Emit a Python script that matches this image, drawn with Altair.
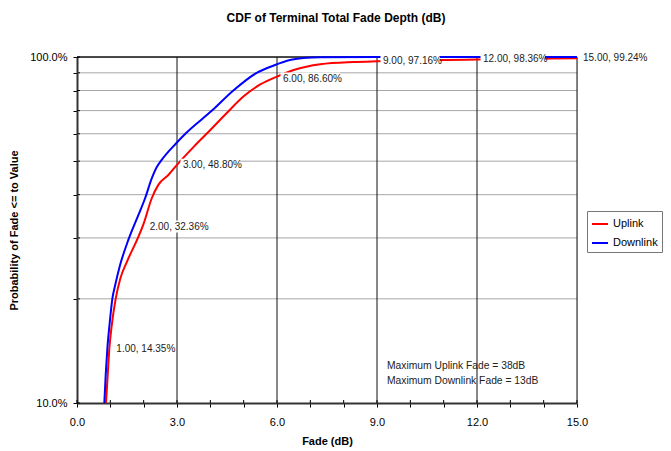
import altair as alt
import pandas as pd

# ---- data ----
up_x = [0.87, 0.92, 0.97, 1.05, 1.16, 1.30, 1.49, 1.84, 2.00, 2.24, 2.44, 2.74, 3.00, 3.50, 4.00, 4.50, 5.00, 5.50, 6.00, 6.50, 7.30, 8.30, 9.00, 10.5, 12.0, 13.5, 15.0]
up_p = [0.100, 0.120, 0.1435, 0.170, 0.200, 0.229, 0.255, 0.302, 0.330, 0.390, 0.427, 0.456, 0.488, 0.550, 0.615, 0.690, 0.770, 0.833, 0.878, 0.917, 0.953, 0.967, 0.9716, 0.978, 0.9836, 0.988, 0.9924]

down_x = [0.82, 0.86, 0.91, 0.98, 1.06, 1.15, 1.29, 1.54, 1.84, 2.04, 2.24, 2.39, 2.54, 2.99, 3.25, 4.05, 4.69, 5.39, 5.90, 6.39, 6.79, 7.30, 9.0, 12.0, 15.0]
down_p = [0.100, 0.120, 0.1435, 0.170, 0.200, 0.220, 0.250, 0.296, 0.349, 0.390, 0.445, 0.480, 0.504, 0.565, 0.600, 0.700, 0.800, 0.900, 0.945, 0.980, 0.993, 0.999, 1.0, 1.0, 1.0]

series_names = ["Uplink", "Downlink"]
series_colors = ["#ff0000", "#0000ff"]

label_x = [1, 2, 3, 6, 9, 12, 15]
label_p = [0.1435, 0.3236, 0.488, 0.866, 0.9716, 0.9836, 0.9924]
label_text = ["1.00, 14.35%", "2.00, 32.36%", "3.00, 48.80%", "6.00, 86.60%",
              "9.00, 97.16%", "12.00, 98.36%", "15.00, 99.24%"]

x_tick_values = list(range(0, 16))
x_grid_values = [3, 6, 9, 12, 15]
y_tick_values = [0.1, 0.2, 0.3, 0.4, 0.5, 0.6, 0.7, 0.8, 0.9, 1.0]
y_grid_gray = [0.2, 0.3, 0.4, 0.5, 0.6, 0.7, 0.8, 0.9]
y_grid_black = [1.0]

note_lines = ["Maximum Uplink Fade = 38dB", "Maximum Downlink Fade = 13dB"]
note_x = [9.3, 9.3]
note_p = [0.1279, 0.1160]

W, H = 500, 346
FONT = "Liberation Sans"

# ---- tables ----
curves = pd.concat([
    pd.DataFrame({"x": up_x, "p": up_p, "series": series_names[0], "o": 0}),
    pd.DataFrame({"x": down_x, "p": down_p, "series": series_names[1], "o": 1}),
])
labels = pd.DataFrame({"x": label_x, "p": label_p, "label": label_text})
notes = pd.DataFrame({"x": note_x, "p": note_p, "label": note_lines})

xs = alt.Scale(domain=[0, 15], nice=False, zero=False)
ys = alt.Scale(type="log", domain=[0.1, 1.0], nice=False)

x_axis = alt.Axis(values=x_tick_values,
                  labelExpr="datum.value % 3 == 0 ? format(datum.value, '.1f') : ''",
                  labelOverlap=False, labelBound=False, labelFlush=False,
                  grid=False, tickSize=4, tickColor="#000", domainColor="#333", domainWidth=2,
                  labelFontSize=11, labelPadding=9, labelColor="#000", labelFont=FONT,
                  title="Fade (dB)", titleFontSize=11, titleFontWeight="bold", titleFont=FONT,
                  titleX=W / 2, titleY=38, titleBaseline="middle", titleColor="#000")
y_axis = alt.Axis(values=y_tick_values,
                  labelExpr="(datum.value < 0.15 || datum.value > 0.95) ? format(datum.value, '.1%') : ''",
                  labelOverlap=False, labelBound=False, labelFlush=False,
                  grid=False, tickSize=4, tickColor="#000", domainColor="#333", domainWidth=2,
                  labelFontSize=11, labelPadding=6, labelColor="#000", labelFont=FONT,
                  title="Probability of Fade <= to Value", titleFontSize=11, titleFontWeight="bold",
                  titleFont=FONT, titleX=-63, titleY=H / 2, titleBaseline="middle", titleColor="#000")

X = alt.X("x:Q", scale=xs, axis=x_axis)
Y = alt.Y("p:Q", scale=ys, axis=y_axis)

gray_grid = alt.Chart(pd.DataFrame({"p": y_grid_gray})).mark_rule(
    color="#a6a6a6", strokeWidth=1).encode(y=Y)
black_hgrid = alt.Chart(pd.DataFrame({"p": y_grid_black})).mark_rule(
    color="#111", strokeWidth=1.5).encode(y=Y)
black_vgrid = alt.Chart(pd.DataFrame({"x": x_grid_values})).mark_rule(
    color="#111", strokeWidth=1).encode(x=X)

x_in_ticks = alt.Chart(pd.DataFrame({"x": x_tick_values})).mark_rule(
    color="#000", strokeWidth=1).encode(x=X, y=alt.value(H - 3), y2=alt.value(H))
y_in_ticks = alt.Chart(pd.DataFrame({"p": y_tick_values})).mark_rule(
    color="#000", strokeWidth=1).encode(y=Y, x=alt.value(0), x2=alt.value(3))

lines = alt.Chart(curves).mark_line(interpolate="monotone", strokeWidth=2).encode(
    x=X, y=Y,
    color=alt.Color("series:N",
                    scale=alt.Scale(domain=series_names, range=series_colors),
                    legend=alt.Legend(title=None, orient="none", legendX=510, legendY=154,
                                      symbolType="stroke", symbolStrokeWidth=2, symbolSize=256,
                                      labelFontSize=11, labelFont=FONT, labelColor="#000",
                                      labelOffset=4, rowPadding=5, padding=4,
                                      strokeColor="#777", fillColor="white")),
    order="o:Q",
)

label_boxes = alt.Chart(labels).transform_calculate(
    x2=f"datum.x + (length(datum.label) * 5.0 + 3) / ({W} / 15)"
).mark_rect(color="white", xOffset=3.5, yOffset=-6, y2Offset=6).encode(
    x=X, x2="x2:Q", y=Y, y2="p:Q")

label_texts = alt.Chart(labels).mark_text(
    align="left", baseline="middle", dx=6, fontSize=10, font=FONT, color="#222").encode(
    x=X, y=Y, text="label:N")

note_texts = alt.Chart(notes).mark_text(
    align="left", baseline="middle", fontSize=10.3, font=FONT, color="#222").encode(
    x=X, y=Y, text="label:N")

chart = alt.layer(
    gray_grid, black_vgrid, black_hgrid, lines, label_boxes, label_texts, note_texts,
    x_in_ticks, y_in_ticks
).properties(
    width=W, height=H,
    title=alt.TitleParams("CDF of Terminal Total Fade Depth (dB)", fontSize=12, fontWeight="bold",
                          font=FONT, anchor="middle", dx=9, offset=26, color="#000"),
    autosize=alt.AutoSizeParams(type="none"),
    padding={"left": 69, "top": 49, "right": 86, "bottom": 45},
).configure_view(stroke=None).configure(background="white")

chart.save("out.html", embed_options={"renderer": "svg", "actions": False})
